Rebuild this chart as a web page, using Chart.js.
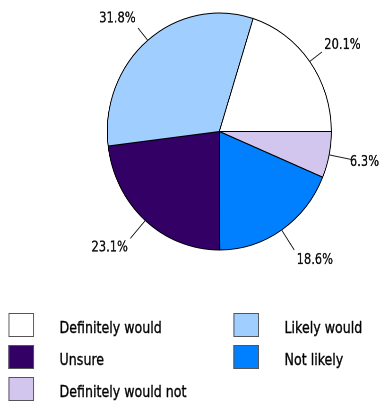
<!DOCTYPE html>
<html>
<head>
<meta charset="utf-8">
<script src="https://cdn.jsdelivr.net/npm/chart.js@4.4.1/dist/chart.umd.min.js"></script>
<style>
  html, body { margin: 0; padding: 0; background: #fff; overflow: hidden; }
  /* everything is laid out 402 wide, then narrowed to 380 */
  #wrap { position: relative; width: 402px; height: 402px; transform: scaleX(0.9453); transform-origin: 0 0; }
  #pie { position: absolute; left: 0; top: 0; }
  .key { position: absolute; font: 16.5px "DejaVu Sans Condensed", "Liberation Sans Narrow", "DejaVu Sans", sans-serif; color: #000; white-space: nowrap; }
  .key .box { position: absolute; left: 0; top: 0; width: 25px; height: 22px; border: 1.5px solid #555; }
  .key .txt { position: absolute; top: 4px; line-height: 22px; transform: scaleX(0.9); transform-origin: 0 0; -webkit-text-stroke: 0.35px #000; }
</style>
</head>
<body>
<div id="wrap">
  <canvas id="pie" width="402" height="295"></canvas>
  <div id="legend"></div>
</div>
<script>
const categories = ['Definitely would', 'Likely would', 'Unsure', 'Not likely', 'Definitely would not'];
const shares = [20.1, 31.8, 23.1, 18.6, 6.3];
const colors = ['#ffffff', '#a0cefe', '#330066', '#0080ff', '#d2c5ee'];

// slices run counter-clockwise from 3 o'clock, so feed them reversed
const order = categories.map((c, i) => i).reverse();

const pctLabels = {
  id: 'pctLabels',
  afterDatasetsDraw(chart) {
    const ctx = chart.ctx;
    const arcs = chart.getDatasetMeta(0).data;
    ctx.save();
    ctx.font = '15px "DejaVu Sans Condensed", "Liberation Sans Narrow", "DejaVu Sans", sans-serif';
    ctx.fillStyle = '#111';
    arcs.forEach((arc, i) => {
      const a = (arc.startAngle + arc.endAngle) / 2;
      const c = Math.cos(a), s = Math.sin(a);
      const r = arc.outerRadius;
      // ticks below the centre line are drawn a bit longer
      const len = s > 0 ? 24 : 16;
      const x1 = arc.x + r * c, y1 = arc.y + r * s;
      const x2 = arc.x + (r + len) * c, y2 = arc.y + (r + len) * s;
      ctx.strokeStyle = '#222';
      ctx.lineWidth = 1;
      ctx.beginPath();
      ctx.moveTo(x1, y1);
      ctx.lineTo(x2, y2);
      ctx.stroke();

      const v = chart.data.datasets[0].data[i];
      const txt = v.toFixed(1) + '%';
      const w = ctx.measureText(txt).width * 0.9;
      let tx = x2 + 2.5 * Math.sign(c);
      const align = c > 0.1 ? 'left' : (c < -0.1 ? 'right' : 'center');
      // keep right-hand labels inside the canvas
      if (align === 'left') tx = Math.min(tx, chart.width - w - 1);
      ctx.save();
      ctx.translate(tx, y2 + s * 12);
      ctx.scale(0.9, 1);
      ctx.textAlign = align;
      ctx.textBaseline = 'middle';
      ctx.lineWidth = 0.35;
      ctx.strokeStyle = '#111';
      ctx.fillText(txt, 0, 0);
      ctx.strokeText(txt, 0, 0);
      ctx.restore();
    });
    ctx.restore();
  }
};

new Chart(document.getElementById('pie'), {
  type: 'pie',
  data: {
    labels: order.map(i => categories[i]),
    datasets: [{
      data: order.map(i => shares[i]),
      backgroundColor: order.map(i => colors[i]),
      borderColor: '#000',
      borderWidth: 1
    }]
  },
  options: {
    responsive: false,
    animation: false,
    devicePixelRatio: 2,
    rotation: 90,
    radius: 118.5,
    layout: { padding: { left: 62, right: 0, top: 0, bottom: 32 } },
    plugins: { legend: { display: false }, tooltip: { enabled: false } }
  },
  plugins: [pctLabels]
});

// two-column key, filled row by row
const legend = document.getElementById('legend');
categories.forEach((name, i) => {
  const col = i % 2, row = Math.floor(i / 2);
  const el = document.createElement('div');
  el.className = 'key';
  el.style.left = (col ? 247 : 9) + 'px';
  el.style.top = (313 + row * 32) + 'px';
  el.innerHTML = '<div class="box"></div><div class="txt"></div>';
  el.querySelector('.box').style.background = colors[i];
  el.querySelector('.txt').style.left = '54px';
  el.querySelector('.txt').textContent = name;
  legend.appendChild(el);
});
</script>
</body>
</html>
